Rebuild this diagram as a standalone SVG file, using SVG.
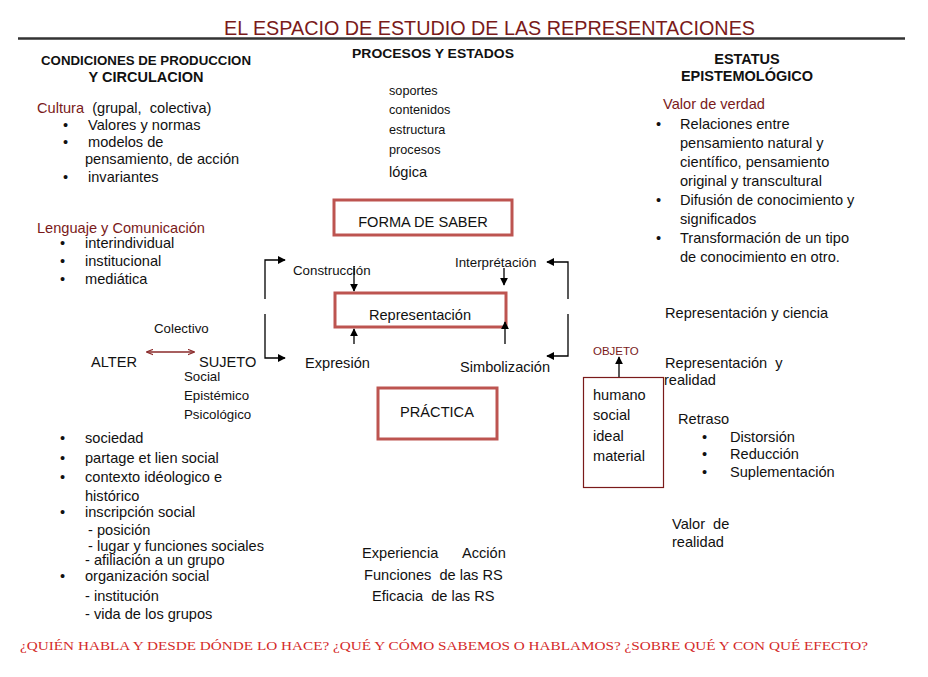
<svg xmlns="http://www.w3.org/2000/svg" width="928" height="677" viewBox="0 0 928 677">
<style>
text{font-family:"Liberation Sans",Arial,sans-serif;fill:#111;white-space:pre}
.h{font-weight:bold;font-size:12.5px}
.t{font-size:14.6px}
.s{font-size:13.3px}
.xs{font-size:12.7px}
.red{fill:#7a1a1a}
.box{fill:#fff;stroke:#bd5450;stroke-width:3}
.ln{stroke:#000;stroke-width:1.3;fill:none}
</style>
<defs>
<marker id="ah" viewBox="0 0 10 10" refX="9" refY="5" markerWidth="8" markerHeight="8" markerUnits="userSpaceOnUse" orient="auto"><path d="M0,0 L10,5 L0,10 z" fill="#000"/></marker>
<marker id="rh" viewBox="0 0 10 10" refX="9" refY="5" markerWidth="7" markerHeight="7" markerUnits="userSpaceOnUse" orient="auto-start-reverse"><path d="M0,1 L10,5 L0,9" fill="none" stroke="#8a2a2a" stroke-width="1.5"/></marker>
</defs>
<rect width="928" height="677" fill="#fff"/>
<g id="title">
<text x="224" y="35" font-size="20" style="fill:#7a1a1a" textLength="531" lengthAdjust="spacingAndGlyphs">EL ESPACIO DE ESTUDIO DE LAS REPRESENTACIONES</text>
<line x1="18" y1="38.5" x2="905" y2="38.5" stroke="#333" stroke-width="2.5"/>
</g>
<g id="left-column">
<text class="h" x="41" y="65" textLength="210" lengthAdjust="spacingAndGlyphs">CONDICIONES DE PRODUCCION</text>
<text class="h" x="146" y="82" text-anchor="middle" style="font-size:14.5px">Y CIRCULACION</text>
<text class="t" x="37" y="113"><tspan class="red">Cultura</tspan>  (grupal,  colectiva)</text>
<text class="t" x="63" y="130">•</text><text class="t" x="88" y="130">Valores y normas</text>
<text class="t" x="63" y="147">•</text><text class="t" x="88" y="147">modelos de</text>
<text class="t" x="85" y="164">pensamiento, de acción</text>
<text class="t" x="63" y="182">•</text><text class="t" x="88" y="182">invariantes</text>
<text class="t red" x="37" y="233">Lenguaje y Comunicación</text>
<text class="t" x="60" y="248">•</text><text class="t" x="85" y="248">interindividual</text>
<text class="t" x="60" y="266">•</text><text class="t" x="85" y="266">institucional</text>
<text class="t" x="60" y="284">•</text><text class="t" x="85" y="284">mediática</text>
<text class="t" x="60" y="443">•</text><text class="t" x="85" y="443">sociedad</text>
<text class="t" x="60" y="463">•</text><text class="t" x="85" y="463">partage et lien social</text>
<text class="t" x="60" y="482">•</text><text class="t" x="85" y="482">contexto idéologico e</text>
<text class="t" x="85" y="501">histórico</text>
<text class="t" x="60" y="517">•</text><text class="t" x="85" y="517">inscripción social</text>
<text class="t" x="88" y="535">- posición</text>
<text class="t" x="88" y="551">- lugar y funciones sociales</text>
<text class="t" x="85" y="565">- afiliación a un grupo</text>
<text class="t" x="60" y="581">•</text><text class="t" x="85" y="581">organización social</text>
<text class="t" x="85" y="601">- institución</text>
<text class="t" x="85" y="619">- vida de los grupos</text>
</g>
<g id="alter"><text class="t" x="91" y="367">ALTER</text></g>
<g id="sujeto">
<text class="t" x="199" y="367">SUJETO</text>
<text class="s" x="184" y="381">Social</text>
<text class="s" x="184" y="400">Epistémico</text>
<text class="s" x="184" y="419">Psicológico</text>
</g>
<g id="middle-column">
<text class="h" x="352" y="58" textLength="162" lengthAdjust="spacingAndGlyphs">PROCESOS Y ESTADOS</text>
<text class="xs" x="389" y="95">soportes</text>
<text class="xs" x="389" y="114">contenidos</text>
<text class="xs" x="389" y="134">estructura</text>
<text class="xs" x="389" y="154">procesos</text>
<text class="t" x="389" y="177">lógica</text>
<text class="s" x="293" y="275">Construcción</text>
<text class="s" x="455" y="267">Interprétación</text>
<text class="t" x="305" y="368">Expresión</text>
<text class="t" x="460" y="372">Simbolización</text>
<text class="t" x="362" y="558">Experiencia</text>
<text class="t" x="462" y="558">Acción</text>
<text class="t" x="364" y="580">Funciones  de las RS</text>
<text class="t" x="372" y="601">Eficacia  de las RS</text>
</g>
<g id="forma-de-saber">
<rect class="box" x="334" y="200" width="178" height="35"/>
<text class="t" x="423" y="227" text-anchor="middle">FORMA DE SABER</text>
</g>
<g id="representacion">
<rect class="box" x="335" y="293" width="171" height="34"/>
<text class="t" x="420" y="320" text-anchor="middle">Representación</text>
</g>
<g id="practica">
<rect class="box" x="378" y="388" width="119" height="51"/>
<text class="t" x="437" y="417" text-anchor="middle">PRÁCTICA</text>
</g>
<g id="objeto">
<text x="593" y="355" style="font-size:11.5px;fill:#7a1a1a">OBJETO</text>
<rect x="583.5" y="377.5" width="80" height="110" fill="none" stroke="#7a1a1a" stroke-width="1.2"/>
<text class="t" x="593" y="400">humano</text>
<text class="t" x="593" y="420">social</text>
<text class="t" x="593" y="441">ideal</text>
<text class="t" x="593" y="461">material</text>
</g>
<g id="right-column">
<text class="h" x="747" y="64" text-anchor="middle" style="font-size:14.5px">ESTATUS</text>
<text class="h" x="747" y="81" text-anchor="middle" style="font-size:14.5px">EPISTEMOLÓGICO</text>
<text class="t red" x="663" y="109">Valor de verdad</text>
<text class="t" x="656" y="129">•</text><text class="t" x="680" y="129">Relaciones entre</text>
<text class="t" x="680" y="148">pensamiento natural y</text>
<text class="t" x="680" y="167">científico, pensamiento</text>
<text class="t" x="680" y="186">original y transcultural</text>
<text class="t" x="656" y="205">•</text><text class="t" x="680" y="205">Difusión de conocimiento y</text>
<text class="t" x="680" y="224">significados</text>
<text class="t" x="656" y="243">•</text><text class="t" x="680" y="243">Transformación de un tipo</text>
<text class="t" x="680" y="262">de conocimiento en otro.</text>
<text class="t" x="665" y="318">Representación y ciencia</text>
<text class="t" x="665" y="368">Representación  y</text>
<text class="t" x="664" y="385">realidad</text>
<text class="t" x="678" y="424">Retraso</text>
<text class="t" x="702" y="442">•</text><text class="t" x="730" y="442">Distorsión</text>
<text class="t" x="702" y="459">•</text><text class="t" x="730" y="459">Reducción</text>
<text class="t" x="702" y="477">•</text><text class="t" x="730" y="477">Suplementación</text>
<text class="t" x="672" y="529">Valor  de</text>
<text class="t" x="672" y="547">realidad</text>
</g>
<g id="footer">
<text x="20" y="650" style="font-size:13px;font-family:'Liberation Serif','Times New Roman',serif;fill:#d42a2a" textLength="848" lengthAdjust="spacingAndGlyphs">¿QUIÉN HABLA Y DESDE DÓNDE LO HACE? ¿QUÉ Y CÓMO SABEMOS O HABLAMOS? ¿SOBRE QUÉ Y CON QUÉ EFECTO?</text>
</g>
<g id="connectors">
<text class="s" x="154" y="333">Colectivo</text>
<line x1="147" y1="352" x2="194" y2="352" stroke="#8a2a2a" stroke-width="1.3" marker-start="url(#rh)" marker-end="url(#rh)"/>
<polyline class="ln" points="265,299 265,260 285,260" marker-end="url(#ah)"/>
<polyline class="ln" points="265,314 265,358 285,358" marker-end="url(#ah)"/>
<polyline class="ln" points="568,299 568,262 547,262" marker-end="url(#ah)"/>
<polyline class="ln" points="568,314 568,356 547,356" marker-end="url(#ah)"/>
<line class="ln" x1="354" y1="266" x2="354" y2="291" marker-end="url(#ah)"/>
<line class="ln" x1="504" y1="268" x2="504" y2="285" marker-end="url(#ah)"/>
<line class="ln" x1="354" y1="344" x2="354" y2="329" marker-end="url(#ah)"/>
<line class="ln" x1="505" y1="344" x2="505" y2="322" marker-end="url(#ah)"/>
<line class="ln" x1="619" y1="377" x2="619" y2="357" marker-end="url(#ah)"/>
</g>
</svg>
